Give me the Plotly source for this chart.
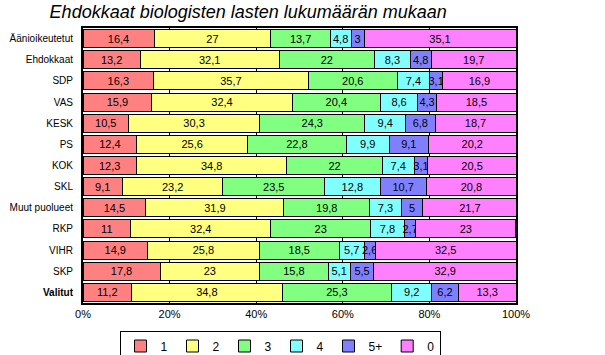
import plotly.graph_objects as go

categories = ["Äänioikeutetut", "Ehdokkaat", "SDP", "VAS", "KESK", "PS", "KOK",
              "SKL", "Muut puolueet", "RKP", "VIHR", "SKP", "Valitut"]
series_names = ["1", "2", "3", "4", "5+", "0"]
s1 = [16.4, 13.2, 16.3, 15.9, 10.5, 12.4, 12.3, 9.1, 14.5, 11, 14.9, 17.8, 11.2]
s2 = [27, 32.1, 35.7, 32.4, 30.3, 25.6, 34.8, 23.2, 31.9, 32.4, 25.8, 23, 34.8]
s3 = [13.7, 22, 20.6, 20.4, 24.3, 22.8, 22, 23.5, 19.8, 23, 18.5, 15.8, 25.3]
s4 = [4.8, 8.3, 7.4, 8.6, 9.4, 9.9, 7.4, 12.8, 7.3, 7.8, 5.7, 5.1, 9.2]
s5 = [3, 4.8, 3.1, 4.3, 6.8, 9.1, 3.1, 10.7, 5, 2.7, 2.6, 5.5, 6.2]
s0 = [35.1, 19.7, 16.9, 18.5, 18.7, 20.2, 20.5, 20.8, 21.7, 23, 32.5, 32.9, 13.3]
colors = ["#FF8080", "#FFFF80", "#80FF80", "#80FFFF", "#8080FF", "#FF80FF"]
tick_vals = [0, 20, 40, 60, 80, 100]
tick_text = ["0%", "20%", "40%", "60%", "80%", "100%"]

y_labels = [("<b>%s</b>" % c) if c == "Valitut" else c for c in categories]

def fmt(v):
    return ("%g" % v).replace(".", ",")

fig = go.Figure()
for name, vals, col in zip(series_names, [s1, s2, s3, s4, s5, s0], colors):
    fig.add_trace(go.Bar(
        y=y_labels, x=vals, name=name, orientation="h",
        marker=dict(color=col, line=dict(color="black", width=1)),
        text=[fmt(v) for v in vals], textposition="inside",
        insidetextanchor="middle", textangle=0,
        textfont=dict(color="black", size=11, family="Liberation Sans"),
    ))

fig.update_layout(
    barmode="stack", bargap=0.15,
    width=605, height=355,
    margin=dict(l=83, r=89, t=28, b=52, autoexpand=False),
    paper_bgcolor="white", plot_bgcolor="white",
    font=dict(family="Liberation Sans", size=11, color="black"),
    uniformtext=dict(minsize=11, mode="show"),
    title=dict(text="<i>Ehdokkaat biologisten lasten lukumäärän mukaan</i>",
               x=0.082, xanchor="left", y=0.985, yanchor="top",
               font=dict(size=18, family="Liberation Sans", color="black")),
    xaxis=dict(range=[0, 100], tickvals=tick_vals, ticktext=tick_text,
               showgrid=True, gridcolor="black", gridwidth=1,
               showline=True, linecolor="black", linewidth=2, mirror=True,
               zeroline=False, ticks="", fixedrange=True, automargin=False,
               tickfont=dict(size=11)),
    yaxis=dict(autorange="reversed", showline=True, linecolor="black",
               linewidth=2, mirror=True, ticks="", ticklabelstandoff=6,
               automargin=False, fixedrange=True, tickfont=dict(size=10)),
    legend=dict(orientation="h", x=0.455, xanchor="center", y=-0.1,
                yanchor="top", bordercolor="black", borderwidth=1,
                font=dict(size=12), traceorder="normal",
                itemwidth=30, entrywidth=0, tracegroupgap=0),
    showlegend=True,
)
fig.write_html("out.html", config={"displayModeBar": False},
               post_script="document.body.style.margin='0';document.body.style.overflow='hidden';")
